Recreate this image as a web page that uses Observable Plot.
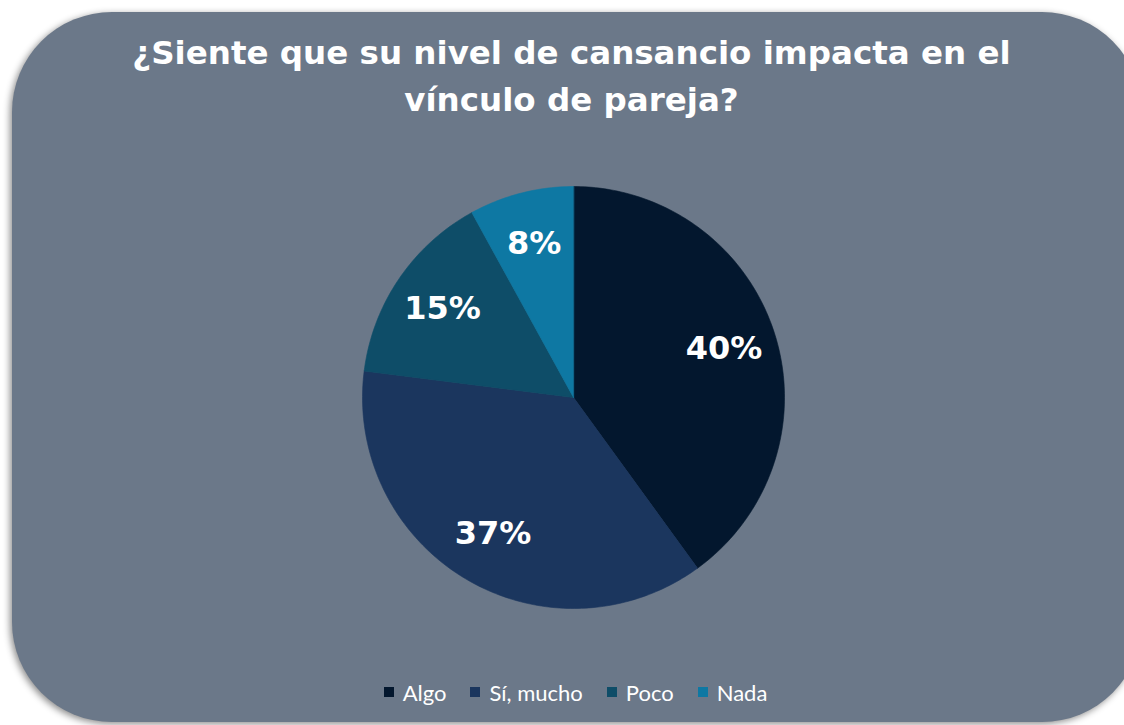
<!DOCTYPE html>
<html>
<head>
<meta charset="utf-8">
<script src="https://cdn.jsdelivr.net/npm/d3@7"></script>
<script src="https://cdn.jsdelivr.net/npm/@observablehq/plot@0.6"></script>
<style>
  html, body { margin: 0; padding: 0; background: #ffffff; width: 1124px; height: 725px; overflow: hidden; }
  #card {
    position: absolute; left: 12px; top: 12px; width: 1130px; height: 710px;
    background: #6b7889; border-radius: 100px;
    box-shadow: -2px 2px 7px rgba(0,0,0,0.45);
  }
  #title {
    position: absolute; left: 0; top: 30px; width: 1143px; text-align: center;
    color: #ffffff; font-family: "DejaVu Sans", Verdana, sans-serif; font-weight: bold;
    font-size: 32.5px; line-height: 47px;
  }
  #chart { position: absolute; left: 0; top: 175px; }
  #legend {
    position: absolute; left: 0; top: 678px; width: 1151px; display: flex; justify-content: center;
    align-items: center; gap: 24px; color: #ffffff; font-family: Lato, "Open Sans", sans-serif; font-size: 22px;
    height: 28px;
  }
  .item { display: flex; align-items: center; gap: 9px; }
  .sw { width: 10px; height: 10px; display: inline-block; }
</style>
</head>
<body>
<div id="card"></div>
<div id="title"></div>
<div id="chart"></div>
<div id="legend"></div>
<script>
const titleLines = ["¿Siente que su nivel de cansancio impacta en el", "vínculo de pareja?"];
const categories = ["Algo", "Sí, mucho", "Poco", "Nada"];
const values = [40, 37, 15, 8];
const labels = ["40%", "37%", "15%", "8%"];
const colors = ["#03172e", "#1b365e", "#0e4d68", "#0e78a3"];

document.getElementById("title").innerHTML = titleLines.join("<br>");

const total = d3.sum(values);
const R = 1;
let acc = 0;
const slices = categories.map((c, i) => {
  const a0 = acc / total * 2 * Math.PI;
  acc += values[i];
  const a1 = acc / total * 2 * Math.PI;
  const n = Math.max(8, Math.ceil((a1 - a0) / (Math.PI / 180)));
  const ring = [[0, 0]];
  for (let k = 0; k <= n; k++) {
    const a = a0 + (a1 - a0) * k / n;
    ring.push([R * Math.sin(a), R * Math.cos(a)]);
  }
  ring.push([0, 0]);
  return {
    type: "Feature",
    properties: {category: c, value: values[i], label: labels[i], color: colors[i], mid: (a0 + a1) / 2},
    geometry: {type: "Polygon", coordinates: [ring]}
  };
});

const circleRing = d3.range(0, 361).map(d => [R * Math.sin(d * Math.PI / 180), R * Math.cos(d * Math.PI / 180)]);
const domain = {type: "Polygon", coordinates: [circleRing]};

const labelData = slices.map(s => ({
  x: 0.75 * R * Math.sin(s.properties.mid),
  y: 0.75 * R * Math.cos(s.properties.mid),
  text: s.properties.label
}));

const plot = Plot.plot({
  width: 1124,
  height: 444,
  marginLeft: 22,
  marginRight: 0,
  marginTop: 11,
  marginBottom: 11,
  projection: {type: "reflect-y", domain},
  style: {background: "transparent"},
  marks: [
    Plot.geo(slices, {fill: d => d.properties.color, stroke: d => d.properties.color, strokeWidth: 0.6}),
    Plot.text(labelData, {x: "x", y: "y", text: "text", fill: "white", fontSize: 32, fontWeight: "bold", fontFamily: "DejaVu Sans"})
  ]
});
document.getElementById("chart").appendChild(plot);

const legend = document.getElementById("legend");
categories.forEach((c, i) => {
  const it = document.createElement("div");
  it.className = "item";
  const sw = document.createElement("span");
  sw.className = "sw";
  sw.style.background = colors[i];
  const t = document.createElement("span");
  t.textContent = c;
  it.appendChild(sw);
  it.appendChild(t);
  legend.appendChild(it);
});
</script>
</body>
</html>
